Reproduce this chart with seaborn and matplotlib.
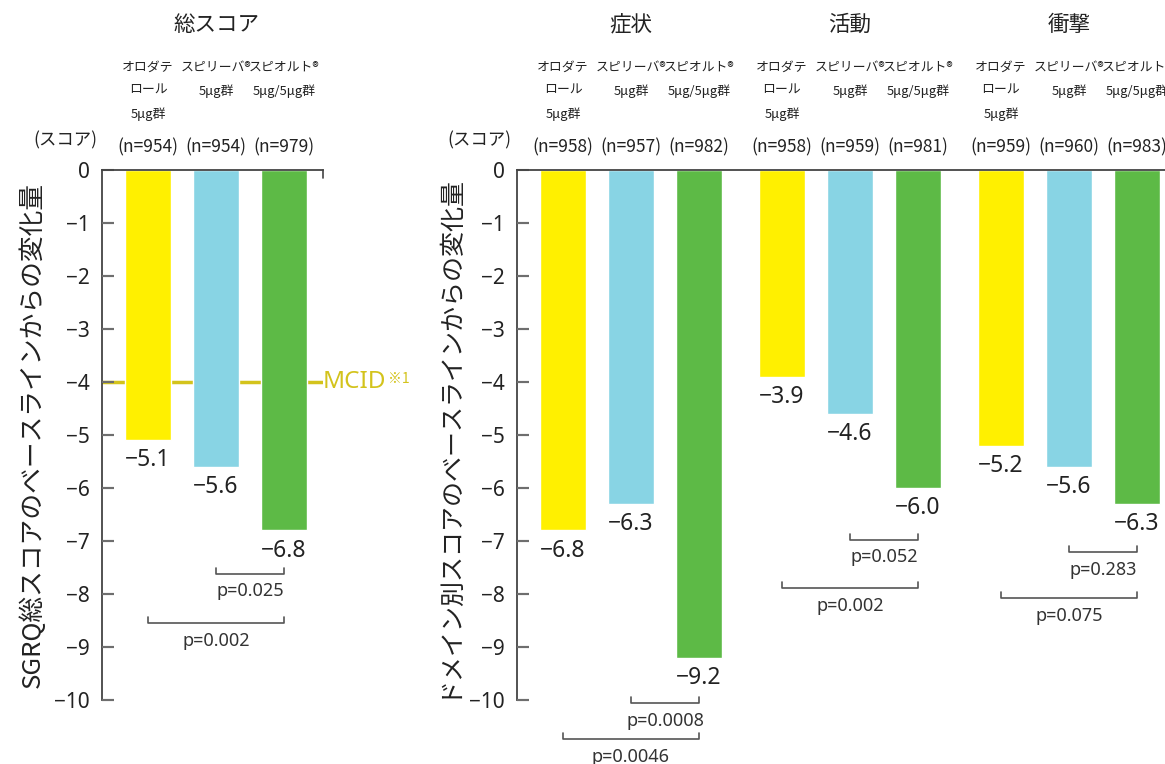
import matplotlib
matplotlib.use("Agg")
import matplotlib.pyplot as plt
import matplotlib.transforms as mtransforms
from matplotlib.lines import Line2D
import pandas as pd
import seaborn as sns

# ---------------- data ----------------
treatments = ["オロダテロール5μg群", "スピリーバ®5μg群", "スピオルト®5μg/5μg群"]
treatment_headers = ["オロダテ\nロール\n5μg群", "スピリーバ®\n5μg群", "スピオルト®\n5μg/5μg群"]

total_title = "総スコア"
total_values = [-5.1, -5.6, -6.8]
total_n = [954, 954, 979]
total_p = ["p=0.025", "p=0.002"]

domain_titles = ["症状", "活動", "衝撃"]
symptom_values = [-6.8, -6.3, -9.2]
activity_values = [-3.9, -4.6, -6.0]
impact_values = [-5.2, -5.6, -6.3]
symptom_n = [958, 957, 982]
activity_n = [958, 959, 981]
impact_n = [959, 960, 983]
symptom_p = ["p=0.0008", "p=0.0046"]
activity_p = ["p=0.052", "p=0.002"]
impact_p = ["p=0.283", "p=0.075"]

mcid_value = -4
mcid_label = "MCID"
mcid_note = "※1"
y_ticks = [0, -1, -2, -3, -4, -5, -6, -7, -8, -9, -10]
unit_label = "(スコア)"
ylabel_total = "SGRQ総スコアのベースラインからの変化量"
ylabel_domain = "ドメイン別スコアのベースラインからの変化量"

# ---------------- style / layout ----------------
colors = ["#FFF000", "#88D4E4", "#5DBA46"]
mcid_color = "#D3C31C"
text_color = "#222222"
spine_color = "#444444"
tick_color = "#6e6e6e"
group_step = 3.22
bar_width = 0.68
px_per_unit = 68.0
x_left = -0.676

sns.set_style("white", {"ytick.left": True})
plt.rcParams["font.family"] = ["Noto Sans", "Noto Sans CJK JP", "DejaVu Sans"]
narrow = ["Liberation Sans Narrow", "Noto Sans CJK JP", "DejaVu Sans"]
cjk = ["Noto Sans CJK JP", "DejaVu Sans"]

W, H = 1165, 764
fig = plt.figure(figsize=(W / 100, H / 100), dpi=100)
y0_px, y10_px = 170, 700
ax_bottom = 1 - y10_px / H
ax_height = (y10_px - y0_px) / H
ax1_w_px = 323 - 102
ax2_w_px = W - 517
ax1 = fig.add_axes([102 / W, ax_bottom, ax1_w_px / W, ax_height])
ax2 = fig.add_axes([517 / W, ax_bottom, ax2_w_px / W, ax_height])

# data frames
df_total = pd.DataFrame({"pos": [0.0, 1.0, 2.0], "value": total_values,
                         "treatment": treatments})
dom_values = [symptom_values, activity_values, impact_values]
dom_n = [symptom_n, activity_n, impact_n]
dom_p = [symptom_p, activity_p, impact_p]
rows = []
for d, vals in enumerate(dom_values):
    for i, v in enumerate(vals):
        rows.append({"pos": d * group_step + i, "value": v,
                     "treatment": treatments[i], "domain": domain_titles[d]})
df_dom = pd.DataFrame(rows)

for ax, df in ((ax1, df_total), (ax2, df_dom)):
    sns.barplot(data=df, x="pos", y="value", hue="treatment",
                hue_order=treatments, palette=colors, native_scale=True,
                width=bar_width, dodge=False, legend=False, saturation=1,
                ax=ax, zorder=2)

ax1.set_xlim(x_left, (323 - 148) / px_per_unit)
ax2.set_xlim(x_left, (W - 563) / px_per_unit)

for ax, wpx in ((ax1, ax1_w_px), (ax2, ax2_w_px)):
    ax.set_ylim(-10, 0)
    ax.set_yticks(y_ticks)
    ax.set_xticks([])
    ax.set_xlabel("")
    ax.tick_params(axis="y", left=True, direction="in", length=8.5, width=1.5,
                   color=tick_color, pad=9, labelsize=15, labelcolor=text_color)
    for lab in ax.get_yticklabels():
        lab.set_family(["Noto Sans", "DejaVu Sans"])
    ax.spines["right"].set_visible(False)
    ax.spines["bottom"].set_visible(False)
    for s in ("left", "top"):
        ax.spines[s].set_color(spine_color)
        ax.spines[s].set_linewidth(1.3)
    # inward tick marks as figure-level artists (always on top)
    ttr = mtransforms.blended_transform_factory(ax.transAxes, ax.transData)
    for t in y_ticks[1:]:
        fig.add_artist(Line2D([0, 12 / wpx], [t, t], transform=ttr,
                              color=tick_color, lw=1.5, zorder=5,
                              solid_capstyle="butt"))

ax1.set_ylabel(ylabel_total, fontsize=18.5, color=text_color, labelpad=6, family=cjk)
ax2.set_ylabel(ylabel_domain, fontsize=18, color=text_color, labelpad=6, family=cjk)

# small tick at the right end of the top line on the left panel
ax1.plot([1, 1], [1, 0.985], transform=ax1.transAxes, color=spine_color,
         lw=1.2, clip_on=False)

# MCID line
ax1.axhline(mcid_value, color=mcid_color, lw=2.5, zorder=0.5)
mt = ax1.text(1.0, mcid_value, mcid_label,
              transform=mtransforms.blended_transform_factory(ax1.transAxes, ax1.transData),
              ha="left", va="center", fontsize=17.5, color=mcid_color, family=["Noto Sans"])
ax1.annotate(mcid_note, xy=(1.02, 0.9), xycoords=mt, ha="left", va="top",
             fontsize=10, color=mcid_color, family=cjk)


def fmt(v):
    return f"{v:.1f}".replace("-", "\u2212")


def bracket(ax, x1, x2, y, label):
    h = 0.12
    ax.plot([x1, x1, x2, x2], [y + h, y, y, y + h], color="#555555", lw=1.2,
            clip_on=False)
    ax.text((x1 + x2) / 2, y - 0.33, label, ha="center", va="center",
            fontsize=13, color="#333333", clip_on=False)


def annotate_panel(ax, centers, values, ns, pvals, title, bracket_y):
    tr = mtransforms.blended_transform_factory(ax.transData, fig.transFigure)
    for x, v, n, hdr in zip(centers, values, ns, treatment_headers):
        ax.text(x, v - 0.38, fmt(v), ha="center", va="center", fontsize=16.5,
                color=text_color, family=["Noto Sans"])
        ax.text(x, 1 - 147 / H, f"(n={n})", transform=tr, ha="center",
                va="center", fontsize=12.5, color=text_color, family=narrow)
        ax.text(x, 1 - 61 / H, hdr, transform=tr, ha="center", va="top",
                fontsize=9.3, color=text_color, family=narrow, linespacing=2.0)
    ax.text(centers[1], 1 - 25 / H, title, transform=tr, ha="center",
            va="center", fontsize=15.5, color=text_color, family=cjk)
    bracket(ax, centers[1], centers[2], bracket_y[0], pvals[0])
    bracket(ax, centers[0], centers[2], bracket_y[1], pvals[1])


annotate_panel(ax1, [0, 1, 2], total_values, total_n, total_p, total_title,
               (-7.62, -8.55))
dom_brackets = [(-10.06, -10.74), (-6.98, -7.89), (-7.21, -8.08)]
for d in range(3):
    c = [d * group_step + i for i in range(3)]
    annotate_panel(ax2, c, dom_values[d], dom_n[d], dom_p[d], domain_titles[d],
                   dom_brackets[d])

fig.text(65 / W, 1 - 140 / H, unit_label, ha="center", va="center",
         fontsize=12.5, color=text_color, family=cjk)
fig.text(479 / W, 1 - 140 / H, unit_label, ha="center", va="center",
         fontsize=12.5, color=text_color, family=cjk)

fig.savefig("out.png", dpi=100)
